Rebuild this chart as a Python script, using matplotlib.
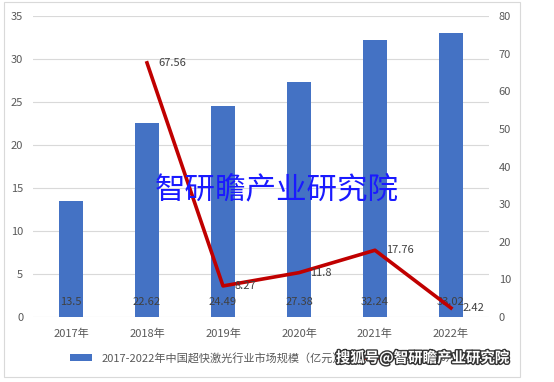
import matplotlib
matplotlib.use('Agg')
import matplotlib.pyplot as plt
import matplotlib.patheffects as pe
from matplotlib.patches import Rectangle
import numpy as np

plt.rcParams['font.family'] = ['Noto Sans CJK SC', 'DejaVu Sans']

years = ['2017年', '2018年', '2019年', '2020年', '2021年', '2022年']
market = [13.5, 22.62, 24.49, 27.38, 32.24, 33.02]
growth_years = ['2018年', '2019年', '2020年', '2021年', '2022年']
growth = [67.56, 8.27, 11.8, 17.76, 2.42]

BAR_COLOR = '#4472C4'
LINE_COLOR = '#C00000'
TEXT_COLOR = '#595959'

fig = plt.figure(figsize=(5.54, 3.82), dpi=100)
ax = fig.add_axes([0.0596, 0.170, 0.823, 0.788])
ax2 = ax.twinx()

x = np.arange(len(years))
ax.bar(x, market, width=0.32, color=BAR_COLOR, zorder=2,
       label='2017-2022年中国超快激光行业市场规模（亿元）')
for xi, v in zip(x, market):
    ax.text(xi, 1.7, f'{v:g}', ha='center', va='center', fontsize=8,
            color='#404040', zorder=5)

gx = [years.index(y) for y in growth_years]
ax2.plot(gx, growth, color=LINE_COLOR, linewidth=2.6, zorder=4,
         label='增长率（%）')
for xi, v in zip(gx, growth):
    ax2.text(xi + 0.15, v, f'{v:g}', ha='left', va='center', fontsize=8,
             color='#404040', zorder=5)

ax.set_xlim(-0.5, 5.5)
ax.set_ylim(0, 35)
ax.set_yticks(range(0, 36, 5))
ax2.set_ylim(0, 80)
ax2.set_yticks(range(0, 81, 10))
ax.set_xticks(x)
ax.set_xticklabels(years)
ax.grid(axis='y', color='#d9d9d9', linewidth=0.8, zorder=0)
ax.set_axisbelow(True)
for a in (ax, ax2):
    for s in a.spines.values():
        s.set_visible(False)
    a.tick_params(length=0, labelsize=8, labelcolor=TEXT_COLOR, pad=7)
ax.tick_params(axis='x', pad=8)

h1, l1 = ax.get_legend_handles_labels()
h2, l2 = ax2.get_legend_handles_labels()
fig.legend(h1 + h2, l1 + l2, loc='center', bbox_to_anchor=(0.476, 0.063),
           ncol=2, frameon=False, fontsize=8, handlelength=2.0,
           handleheight=0.6, columnspacing=1.5, labelcolor=TEXT_COLOR)

fig.text(0.5, 0.503, '智研瞻产业研究院', ha='center', va='center',
         fontsize=22, color='#1a1aff', zorder=10)
fig.text(0.762, 0.063, '搜狐号@智研瞻产业研究院', ha='center', va='center',
         fontsize=10.4, fontweight='bold', color='white', zorder=10,
         path_effects=[pe.withStroke(linewidth=2, foreground='#333333')])

fig.patches.append(Rectangle((0.007, 0.013), 0.931, 0.982, transform=fig.transFigure,
                             fill=False, edgecolor='#d9d9d9', linewidth=0.8))

fig.savefig('out.png', dpi=100)
